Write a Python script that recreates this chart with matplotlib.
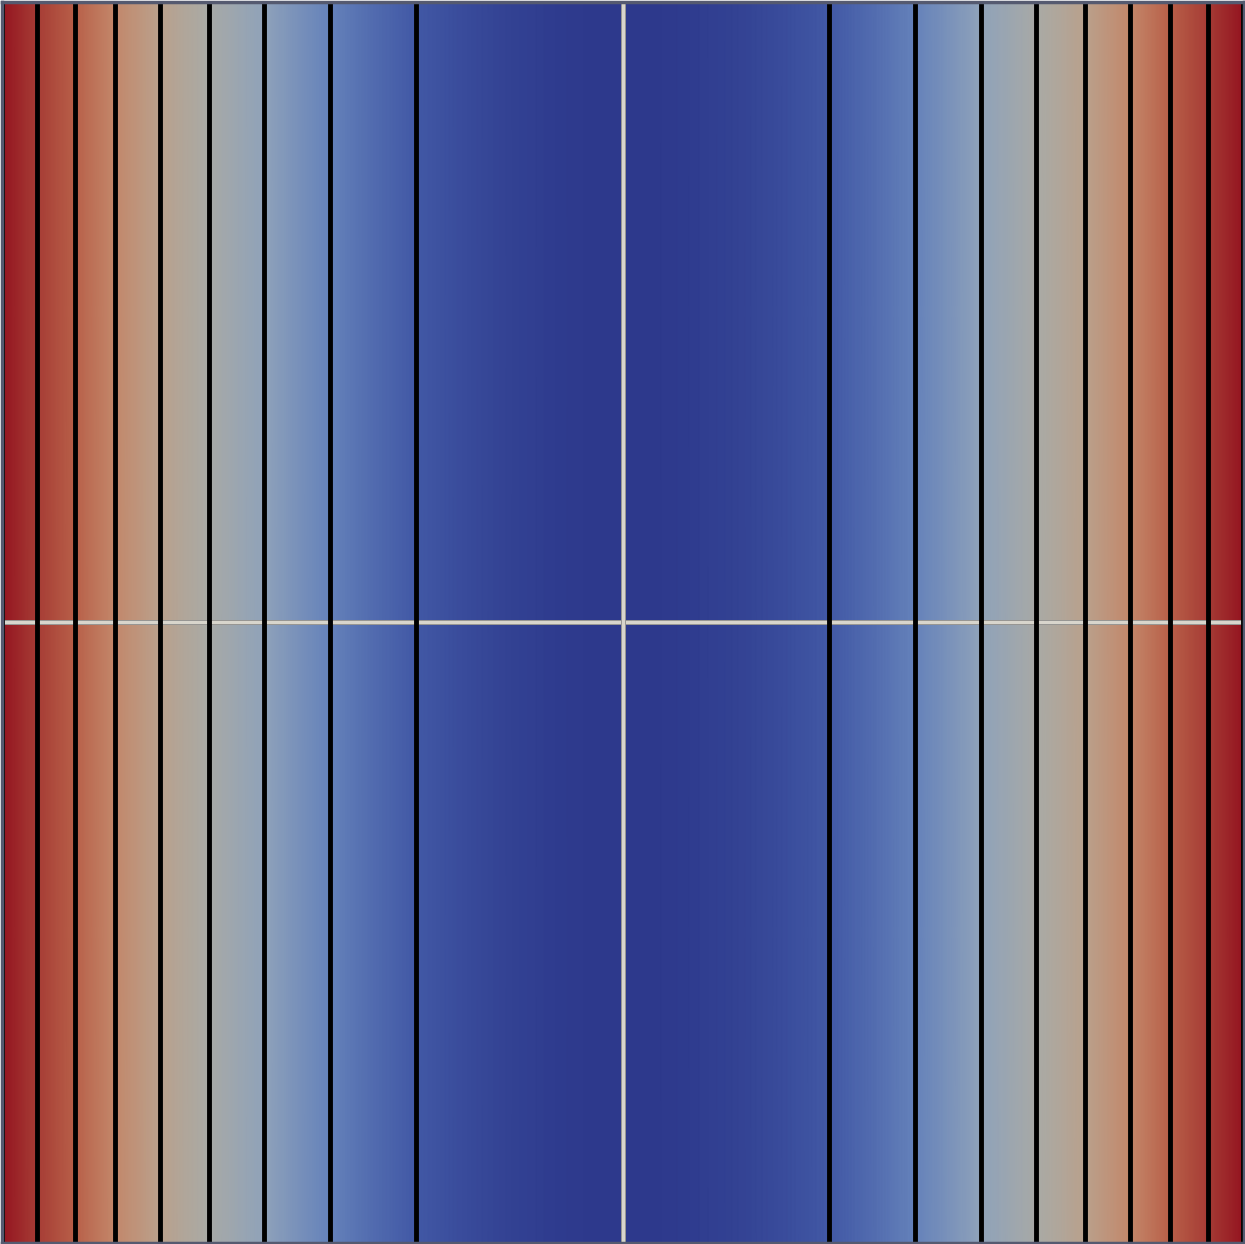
import numpy as np
import matplotlib
matplotlib.use("Agg")
import matplotlib.pyplot as plt
from matplotlib.colors import LinearSegmentedColormap
import matplotlib.patheffects as pe

# colour stops of the scalar map (value, colour)
cmap_values = [0.0, 0.11, 0.22, 0.33, 0.45, 0.56, 0.67, 0.78, 0.89, 1.0]
cmap_colors = ["#2d398c", "#4259a6", "#6582ba", "#8fa2ba", "#aaaaa5",
               "#baa08b", "#c3876a", "#b85f48", "#a63c35", "#941420"]

# contour levels of the field f(x, y) = x^2
levels = [0.0, 0.1111, 0.2222, 0.3333, 0.4444, 0.5556, 0.6667, 0.7778, 0.8889, 0.997]

x_range = [-1.0, 1.0]
y_range = [-1.0, 1.0]

cmap = LinearSegmentedColormap.from_list("field", list(zip(cmap_values, cmap_colors)))

xs = np.linspace(x_range[0], x_range[1], 1201)
ys = np.linspace(y_range[0], y_range[1], 3)
X, Y = np.meshgrid(xs, ys)
Z = X ** 2

fig = plt.figure(figsize=(12.45, 12.44), dpi=100)
ax = fig.add_axes([1.5 / 1245, 1.5 / 1244, 1 - 3 / 1245, 1 - 3 / 1244])
ax.pcolormesh(X, Y, Z, cmap=cmap, vmin=0, vmax=1, shading="gouraud")
ax.plot([-0.995, 0.995], [0, 0], color="#d8d5cc", lw=2.4, zorder=2,
        path_effects=[pe.Stroke(linewidth=3.6, foreground="#8a8a88"), pe.Normal()])
ax.contour(X, Y, Z, levels=levels, colors="black", linewidths=3.5, zorder=3)
ax.axvline(0, color="#d8d5cc", lw=2.4, zorder=4,
           path_effects=[pe.Stroke(linewidth=3.6, foreground="#8a8a88"), pe.Normal()])
ax.set_xlim(x_range)
ax.set_ylim(y_range)
ax.set_xticks([])
ax.set_yticks([])
for s in ax.spines.values():
    s.set_color("#555a70")
    s.set_linewidth(2.5)
    s.set_zorder(5)
fig.savefig("out.png", dpi=100)
